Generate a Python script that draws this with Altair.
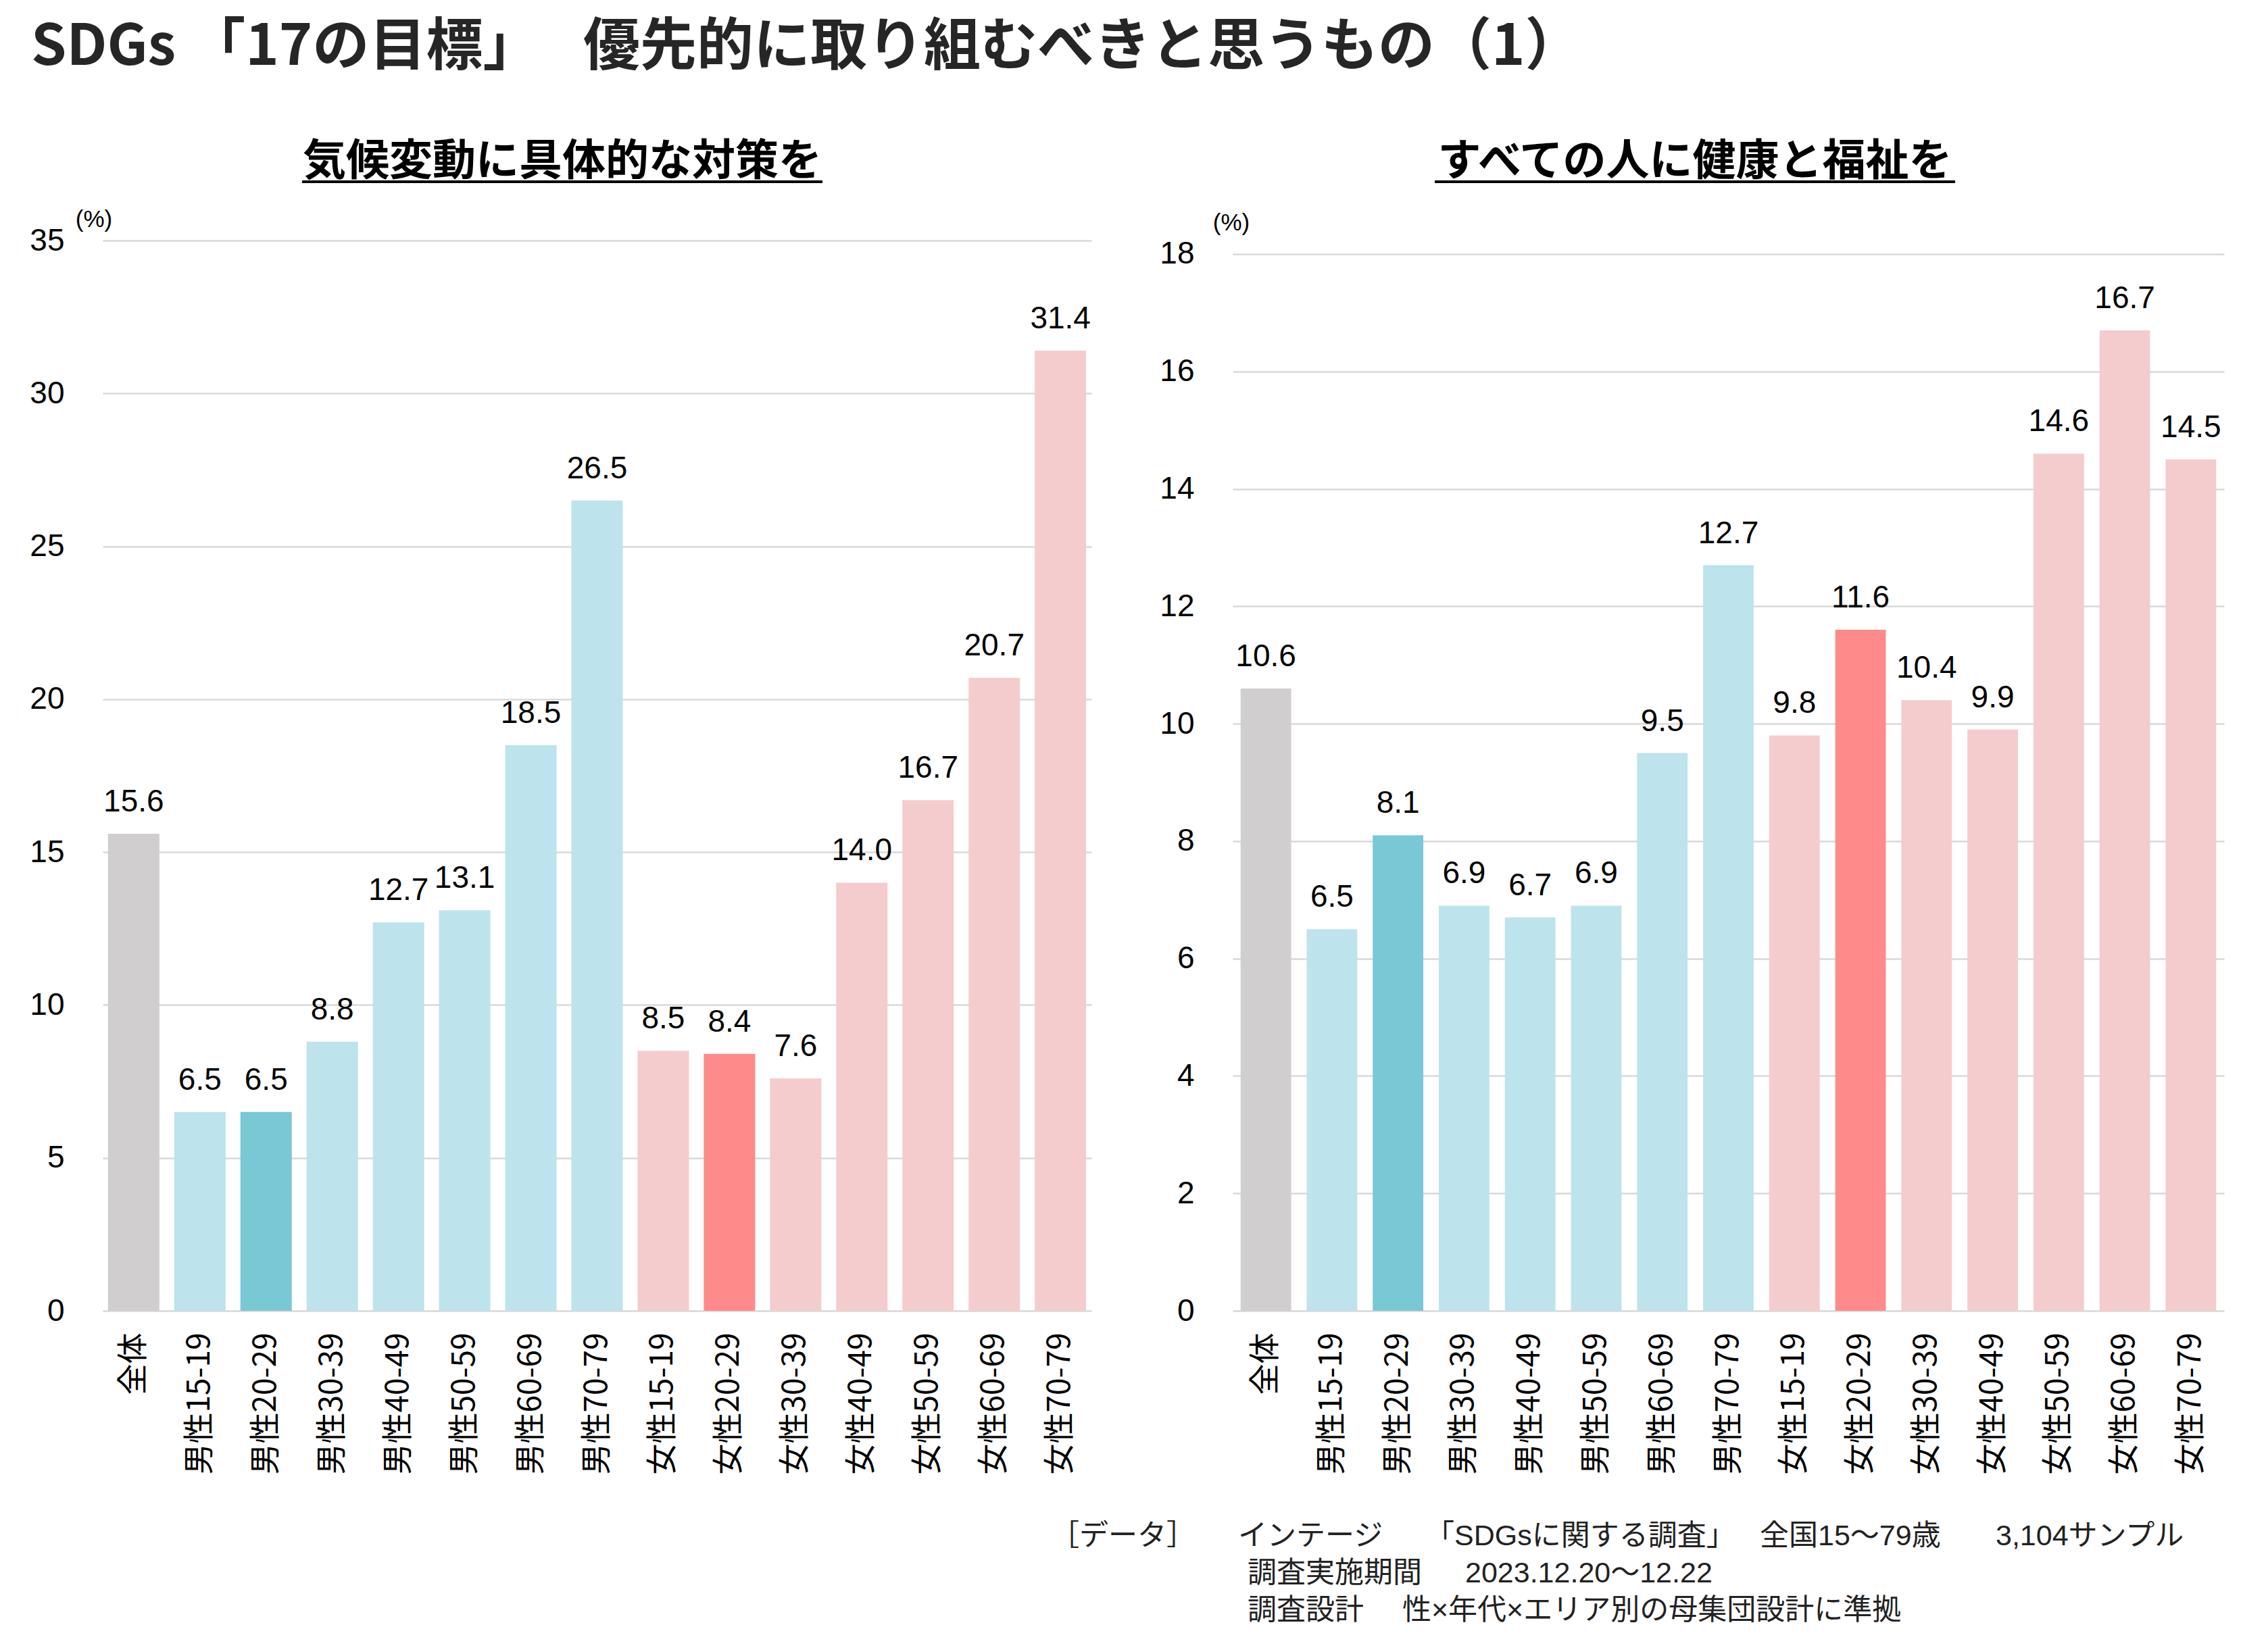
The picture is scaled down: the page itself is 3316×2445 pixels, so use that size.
import altair as alt
import pandas as pd

# Respondent groups (x axis) shared by both panels
categories = [
    "全体",
    "男性15-19", "男性20-29", "男性30-39", "男性40-49", "男性50-59", "男性60-69", "男性70-79",
    "女性15-19", "女性20-29", "女性30-39", "女性40-49", "女性50-59", "女性60-69", "女性70-79",
]
groups = [
    "total",
    "male", "male_hl", "male", "male", "male", "male", "male",
    "female", "female_hl", "female", "female", "female", "female", "female",
]

# Share (%) choosing each goal as a priority
climate_values = [15.6, 6.5, 6.5, 8.8, 12.7, 13.1, 18.5, 26.5, 8.5, 8.4, 7.6, 14.0, 16.7, 20.7, 31.4]
health_values = [10.6, 6.5, 8.1, 6.9, 6.7, 6.9, 9.5, 12.7, 9.8, 11.6, 10.4, 9.9, 14.6, 16.7, 14.5]

climate_ticks = [0, 5, 10, 15, 20, 25, 30, 35]
health_ticks = [0, 2, 4, 6, 8, 10, 12, 14, 16, 18]

group_domain = ["total", "male", "male_hl", "female", "female_hl"]
group_range = ["#D0CECF", "#BDE3EC", "#78C8D6", "#F4CCCD", "#FF8A8A"]

title_pieces = ["SDGs 「17の目標」", "優先的に取り組むべきと思うもの（1）"]
title_x = [-106, 711]

footer_head = "［データ］"
# footer text pieces, one list per line
footer_lines = [
    ["インテージ", "「SDGsに関する調査」", "全国15～79歳", "3,104サンプル"],
    ["調査実施期間", "2023.12.20～12.22"],
    ["調査設計", "性×年代×エリア別の母集団設計に準拠"],
]
footer_x = [
    [8, 285, 780, 1129],
    [22, 344],
    [22, 251],
]

LEFT_W = 1463
RIGHT_W = 1467
PANEL_H = 1584
LATIN = "Liberation Sans"
CJK = "Noto Sans CJK JP"
MIXED = "Liberation Sans, Noto Sans CJK JP"


def text_layer(text, x, y, **mark_kw):
    return alt.Chart(pd.DataFrame({"t": [text]})).mark_text(**mark_kw).encode(
        x=alt.value(x), y=alt.value(y), text="t:N"
    )


def panel(values, title, y_max, y_ticks, pad_inner, pad_outer, head_x, underline, pct_xy):
    df = pd.DataFrame({"cat": categories, "value": values, "group": groups})
    x_enc = alt.X(
        "cat:N",
        sort=categories,
        title=None,
        scale=alt.Scale(paddingInner=pad_inner, paddingOuter=pad_outer),
        axis=alt.Axis(
            labelAngle=270, labelAlign="right", labelBaseline="middle", labelLimit=0,
            labelPadding=32, labelFontSize=46, labelFont=CJK, labelColor="#000000",
            domain=False, ticks=False,
        ),
    )
    y_enc = alt.Y(
        "value:Q",
        title=None,
        scale=alt.Scale(domain=[0, y_max], nice=False, zero=True),
        axis=alt.Axis(
            values=y_ticks, format="d", grid=True, gridColor="#D9D9D9", gridWidth=2.5,
            domain=False, ticks=False, labelPadding=57, labelFontSize=46,
            labelFont=LATIN, labelColor="#000000",
        ),
    )
    bars = alt.Chart(df).mark_bar().encode(
        x=x_enc,
        y=y_enc,
        color=alt.Color("group:N", scale=alt.Scale(domain=group_domain, range=group_range), legend=None),
    )
    labels = alt.Chart(df).mark_text(
        baseline="bottom", dy=-23, fontSize=46, font=LATIN, color="#000000"
    ).encode(
        x=alt.X("cat:N", sort=categories),
        y="value:Q",
        text=alt.Text("value:Q", format=".1f"),
    )
    head = text_layer(title, head_x, -116, fontSize=64, font=CJK, fontWeight="bold",
                      color="#000000", align="center", baseline="middle")
    rule = alt.Chart(pd.DataFrame({"a": [0]})).mark_rule(color="#000000", strokeWidth=4).encode(
        x=alt.value(underline[0]), x2=alt.value(underline[1]), y=alt.value(-87)
    )
    pct = text_layer("(%)", pct_xy[0], pct_xy[1], fontSize=35, font=LATIN,
                     color="#000000", align="center", baseline="middle")
    return [bars, labels, head, rule, pct]


left_layers = panel(climate_values, "気候変動に具体的な対策を", 35, climate_ticks,
                    0.224, 0.08, 680, (295, 1065), (-13, -31))
for piece, px in zip(title_pieces, title_x):
    left_layers.append(
        text_layer(piece, px, -326, fontSize=84, font=CJK, fontWeight="bold",
                   color="#262626", align="left", baseline="top")
    )
left = alt.layer(*left_layers).properties(width=LEFT_W, height=PANEL_H)

right_layers = panel(health_values, "すべての人に健康と福祉を", 18.23, health_ticks,
                     0.235, 0.12, 684, (299, 1069), (-2, -26))
right_layers.append(
    text_layer(footer_head, -270, 1918, fontSize=43, font=MIXED, color="#222222",
               align="left", baseline="middle")
)
for i, (pieces, xs) in enumerate(zip(footer_lines, footer_x)):
    for piece, px in zip(pieces, xs):
        right_layers.append(
            text_layer(piece, px, 1918 + 55 * i, fontSize=43, font=MIXED,
                       color="#222222", align="left", baseline="middle")
        )
right = alt.layer(*right_layers).properties(width=RIGHT_W, height=PANEL_H)

chart = (
    alt.hconcat(left, right, spacing=209, bounds="flush")
    .properties(padding={"left": 43, "top": 29, "right": 25, "bottom": 40}, background="#FFFFFF")
    .configure_view(stroke=None)
)

chart.save("out.html", embed_options={"renderer": "svg", "actions": False})
